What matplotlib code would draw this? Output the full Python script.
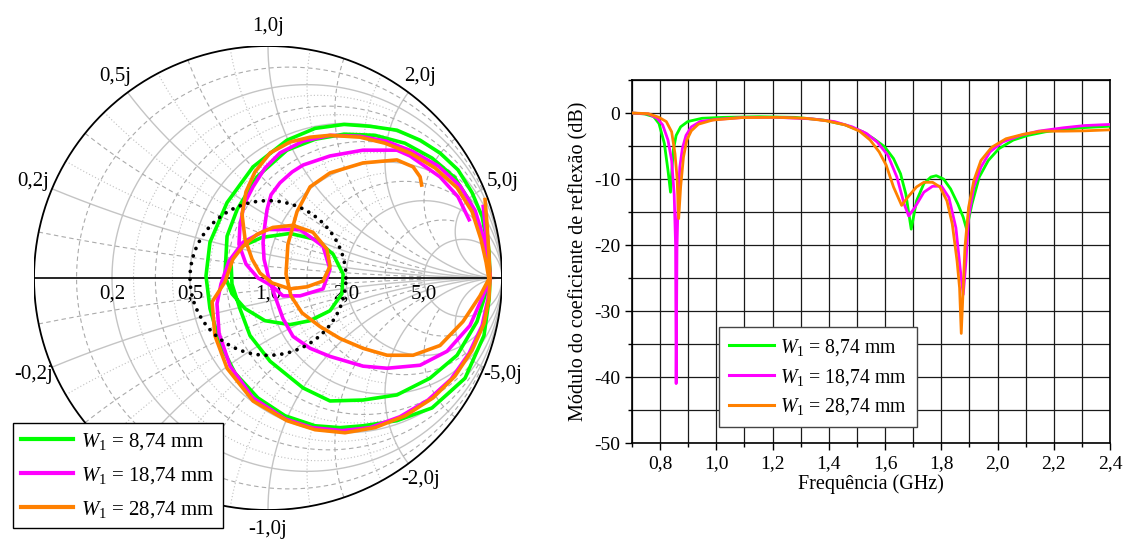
import numpy as np
import matplotlib
matplotlib.use('Agg')
import matplotlib.pyplot as plt
from matplotlib.lines import Line2D

plt.rcParams['font.family'] = ['Liberation Serif', 'DejaVu Serif']
plt.rcParams['mathtext.fontset'] = 'custom'
plt.rcParams['mathtext.rm'] = 'Liberation Serif'
plt.rcParams['mathtext.it'] = 'Liberation Serif:italic'

# ---------------- data ----------------
series_labels = [r'$W_{\mathit{1}}$ = 8,74 mm', r'$W_{\mathit{1}}$ = 18,74 mm', r'$W_{\mathit{1}}$ = 28,74 mm']
series_colors = ['#00FF00', '#FF00FF', '#FF8000']

green_re = [0.932, 0.945, 0.949, 0.945, 0.923, 0.842, 0.701, 0.551, 0.406, 0.308, 0.201, 0.073, -0.043, -0.141,
            -0.205, -0.248, -0.265, -0.248, -0.175, -0.064, 0.081, 0.201, 0.325, 0.436, 0.551, 0.650, 0.735, 0.812,
            0.872, 0.915, 0.936, 0.945, 0.949, 0.936, 0.893, 0.808, 0.692, 0.551, 0.406, 0.265, 0.150, 0.009,
            -0.077, -0.120, -0.154, -0.158, -0.120, -0.026, 0.094, 0.201, 0.278, 0.321, 0.316, 0.265, 0.180,
            0.094, -0.013, -0.098, -0.154, -0.184, -0.175, -0.132, -0.047, 0.081, 0.201, 0.325, 0.457, 0.585,
            0.701, 0.799, 0.863, 0.897]
green_im = [0.231, 0.103, 0.000, -0.090, -0.248, -0.432, -0.560, -0.615, -0.637, -0.645, -0.637, -0.594, -0.517,
            -0.410, -0.282, -0.132, 0.009, 0.154, 0.325, 0.479, 0.594, 0.645, 0.662, 0.654, 0.637, 0.594, 0.539,
            0.466, 0.368, 0.265, 0.154, 0.060, 0.000, -0.047, -0.188, -0.333, -0.432, -0.504, -0.526, -0.530,
            -0.474, -0.359, -0.248, -0.132, -0.026, 0.073, 0.132, 0.175, 0.192, 0.167, 0.103, 0.017, -0.068,
            -0.141, -0.184, -0.201, -0.184, -0.132, -0.068, 0.009, 0.180, 0.295, 0.436, 0.551, 0.598, 0.620,
            0.615, 0.581, 0.517, 0.432, 0.329, 0.226]

magenta_re = [0.919, 0.932, 0.945, 0.949, 0.940, 0.915, 0.859, 0.782, 0.684, 0.564, 0.436, 0.316, 0.188, 0.073,
              -0.064, -0.162, -0.209, -0.218, -0.201, -0.167, -0.107, -0.004, 0.137, 0.235, 0.265, 0.235, 0.137,
              0.064, 0.017, -0.043, -0.094, -0.124, -0.120, -0.103, -0.064, -0.013, 0.051, 0.150, 0.265, 0.393,
              0.504, 0.615, 0.727, 0.821, 0.885, 0.923, 0.940, 0.949, 0.919, 0.863, 0.765, 0.650, 0.509, 0.406,
              0.265, 0.180, 0.107, 0.064, 0.034, 0.004, -0.017, -0.021, -0.013, -0.004, 0.013, 0.051, 0.103,
              0.150, 0.265, 0.406, 0.551, 0.607, 0.650, 0.735, 0.812, 0.863]
magenta_im = [0.316, 0.188, 0.073, 0.000, -0.090, -0.205, -0.325, -0.436, -0.526, -0.598, -0.645, -0.658, -0.645,
              -0.607, -0.517, -0.380, -0.239, -0.111, -0.026, 0.073, 0.154, 0.209, 0.209, 0.137, 0.038, -0.047,
              -0.077, -0.077, -0.034, 0.000, 0.060, 0.145, 0.222, 0.316, 0.393, 0.474, 0.539, 0.590, 0.615, 0.611,
              0.590, 0.547, 0.483, 0.397, 0.291, 0.167, 0.068, 0.000, -0.077, -0.205, -0.316, -0.376, -0.389,
              -0.380, -0.338, -0.303, -0.252, -0.175, -0.090, -0.004, 0.081, 0.154, 0.231, 0.295, 0.359, 0.410,
              0.457, 0.487, 0.526, 0.551, 0.551, 0.526, 0.496, 0.436, 0.350, 0.244]

orange_re = [0.927, 0.936, 0.944, 0.949, 0.944, 0.923, 0.872, 0.799, 0.705, 0.586, 0.457, 0.329, 0.201, 0.081,
             -0.064, -0.175, -0.227, -0.239, -0.184, -0.150, -0.107, -0.047, 0.021, 0.107, 0.192, 0.252, 0.265,
             0.235, 0.167, 0.094, 0.017, -0.034, -0.068, -0.098, -0.111, -0.094, -0.056, 0.009, 0.094, 0.180,
             0.265, 0.393, 0.500, 0.607, 0.714, 0.808, 0.872, 0.910, 0.932, 0.944, 0.906, 0.833, 0.735, 0.620,
             0.509, 0.406, 0.308, 0.222, 0.145, 0.098, 0.077, 0.085, 0.124, 0.180, 0.265, 0.406, 0.551, 0.620,
             0.650, 0.658]
orange_im = [0.346, 0.231, 0.103, 0.000, -0.090, -0.197, -0.312, -0.423, -0.517, -0.594, -0.645, -0.667, -0.654,
             -0.615, -0.530, -0.389, -0.248, -0.103, -0.017, 0.081, 0.137, 0.188, 0.218, 0.227, 0.197, 0.124,
             0.051, -0.013, -0.038, -0.047, -0.021, 0.021, 0.081, 0.167, 0.274, 0.372, 0.457, 0.539, 0.586,
             0.607, 0.615, 0.607, 0.581, 0.539, 0.474, 0.389, 0.286, 0.167, 0.068, -0.004, -0.077, -0.188,
             -0.291, -0.333, -0.333, -0.303, -0.261, -0.209, -0.150, -0.077, 0.017, 0.145, 0.286, 0.393, 0.453,
             0.496, 0.509, 0.479, 0.436, 0.393]

# |S11| (dB) versus frequency (GHz)
green_f = [0.700, 0.745, 0.777, 0.796, 0.815, 0.828, 0.837, 0.841, 0.847, 0.857, 0.873, 0.898, 0.949, 1.025,
           1.152, 1.280, 1.381, 1.458, 1.521, 1.560, 1.598, 1.630, 1.655, 1.674, 1.693, 1.712, 1.738, 1.763,
           1.782, 1.808, 1.833, 1.859, 1.878, 1.890, 1.909, 1.935, 1.967, 2.005, 2.056, 2.107, 2.170, 2.234,
           2.297, 2.400]
green_db = [0.0, -0.15, -0.55, -1.6, -4.6, -8.7, -12.0, -9.2, -5.6, -3.4, -2.1, -1.3, -0.8, -0.66, -0.56, -0.66,
            -1.07, -1.8, -2.85, -3.9, -5.1, -6.9, -9.2, -12.3, -17.6, -13.3, -10.7, -9.7, -9.5, -10.0, -11.5,
            -13.8, -15.8, -17.6, -13.8, -9.7, -7.2, -5.4, -4.1, -3.4, -2.85, -2.5, -2.24, -2.0]

magenta_f = [0.700, 0.758, 0.790, 0.809, 0.828, 0.841, 0.850, 0.855, 0.857, 0.860, 0.864, 0.870, 0.879, 0.892,
             0.911, 0.942, 1.000, 1.089, 1.216, 1.343, 1.420, 1.483, 1.534, 1.572, 1.610, 1.642, 1.668, 1.684,
             1.706, 1.738, 1.769, 1.801, 1.827, 1.852, 1.867, 1.878, 1.888, 1.897, 1.916, 1.941, 1.973, 2.018,
             2.081, 2.145, 2.234, 2.310, 2.400]
magenta_db = [0.0, -0.15, -0.8, -1.8, -4.1, -7.2, -12.3, -20.0, -41.0, -20.4, -13.3, -8.2, -5.4, -3.4, -2.1, -1.3,
              -0.97, -0.7, -0.66, -0.9, -1.3, -2.1, -3.1, -4.4, -6.4, -9.7, -13.8, -15.6, -14.3, -12.0, -11.1,
              -11.1, -12.8, -17.4, -23.5, -27.5, -22.4, -15.8, -11.2, -8.2, -5.9, -4.4, -3.4, -2.75, -2.24, -1.9,
              -1.73]

orange_f = [0.700, 0.758, 0.796, 0.822, 0.841, 0.853, 0.860, 0.866, 0.873, 0.883, 0.895, 0.911, 0.936, 0.987,
            1.089, 1.216, 1.318, 1.394, 1.458, 1.509, 1.547, 1.579, 1.604, 1.630, 1.659, 1.680, 1.712, 1.738,
            1.769, 1.795, 1.820, 1.839, 1.856, 1.865, 1.871, 1.878, 1.884, 1.897, 1.916, 1.941, 1.979, 2.030,
            2.094, 2.157, 2.234, 2.310, 2.400]
orange_db = [0.0, -0.1, -0.66, -1.3, -2.85, -6.2, -9.7, -16.0, -11.2, -6.7, -4.1, -2.7, -1.7, -1.07, -0.7, -0.66,
             -0.8, -1.2, -1.8, -2.75, -4.1, -5.9, -7.9, -11.2, -14.0, -12.8, -11.2, -10.5, -10.5, -11.2, -13.3,
             -16.8, -22.4, -26.5, -33.4, -26.5, -20.4, -14.3, -10.2, -7.2, -5.2, -3.9, -3.2, -2.75, -2.75, -2.7,
             -2.55]

# reactance labels shown (the -0,5j one is hidden by the legend in the reference)
react_labels = [0.2, 0.5, 1.0, 2.0, 5.0, -0.2, -1.0, -2.0, -5.0]
resist_labels = [0.2, 0.5, 1.0, 2.0, 5.0]

W, H = 1126, 540
fig = plt.figure(figsize=(W / 100, H / 100), dpi=100)

# ---------------- Smith chart ----------------
ax = fig.add_axes([34 / W, 1 - 510 / H, 468 / W, 464 / H])
ax.set_xlim(-1, 1)
ax.set_ylim(-1, 1)
ax.axis('off')


def gamma(z):
    return (z - 1) / (z + 1)


def sweep(lim, n=500):
    return np.concatenate([-np.logspace(np.log10(lim), -3, n), [0], np.logspace(-3, np.log10(lim), n)])


# (style, values, max extent of the line along the other coordinate)
grid_styles = [
    (dict(color='#c4c4c4', lw=1.0, ls='-'), [0.2, 0.5, 1.0, 2.0, 5.0], 1000.0),
    (dict(color='#ababab', lw=0.8, ls=(0, (4, 3))), [0.1, 0.35, 0.7, 1.4, 3.0], 5.0),
    (dict(color='#c0c0c0', lw=0.8, ls=(0, (1, 2))), [0.27, 0.42, 0.6, 0.85, 1.2, 1.7], 2.0),
]
for st, vals, lim in grid_styles:
    for v in vals:
        g = gamma(v + 1j * sweep(lim))
        ax.plot(g.real, g.imag, zorder=1, **st)
        rr = np.concatenate([[0], np.logspace(-3, np.log10(lim), 500)])
        for s in (1, -1):
            g = gamma(rr + 1j * s * v)
            ax.plot(g.real, g.imag, zorder=1, **st)

th = np.linspace(0, 2 * np.pi, 721)
ax.plot(np.cos(th), np.sin(th), color='black', lw=1.3, zorder=2)
ax.plot([-1, 1], [0, 0], color='black', lw=1.2, zorder=2)

# VSWR = 2 circle
ax.plot(np.cos(th) / 3, np.sin(th) / 3, color='black', lw=2.7, ls=(0, (0.01, 2.1)),
        dash_capstyle='round', zorder=4)

for re, im, c in [(green_re, green_im, series_colors[0]),
                  (magenta_re, magenta_im, series_colors[1]),
                  (orange_re, orange_im, series_colors[2])]:
    ax.plot(re, im, color=c, lw=2.6, solid_capstyle='butt', solid_joinstyle='round', zorder=3)

for xv in react_labels:
    g = gamma(1j * xv)
    ang = np.angle(g)
    txt = ('%.1f' % xv).replace('.', ',') + 'j'
    ax.text(1.085 * np.cos(ang), 1.085 * np.sin(ang), txt, ha='center', va='center',
            fontsize=15, clip_on=False, zorder=2)
for rv in resist_labels:
    g = gamma(rv)
    ax.text(g.real, -0.07, ('%.1f' % rv).replace('.', ','), ha='center', va='center', fontsize=15, zorder=2)

handles = [Line2D([], [], color=c, lw=3) for c in series_colors]
leg1 = fig.legend(handles, series_labels, loc='upper left', bbox_to_anchor=(13 / W, 1 - 423 / H),
                  borderaxespad=0, frameon=True, fancybox=False, edgecolor='black', fontsize=15,
                  handlelength=2.5, handletextpad=0.35, labelspacing=0.62, borderpad=0.4, framealpha=1)
leg1.get_frame().set_linewidth(1.0)

# ---------------- |S11| plot ----------------
ax2 = fig.add_axes([632 / W, 1 - 443 / H, (1110 - 632) / W, (443 - 80) / H])
for f, d, c in [(green_f, green_db, series_colors[0]),
                (magenta_f, magenta_db, series_colors[1]),
                (orange_f, orange_db, series_colors[2])]:
    ax2.plot(f, d, color=c, lw=2.0, zorder=3)
ax2.set_xlim(0.7, 2.4)
ax2.set_ylim(-50, 5)
ax2.set_xticks(np.arange(0.8, 2.41, 0.2))
ax2.set_xticks(np.arange(0.7, 2.41, 0.1), minor=True)
ax2.set_yticks(np.arange(-50, 1, 10))
ax2.set_yticks(np.arange(-50, 5.1, 5), minor=True)
ax2.set_xticklabels([('%.1f' % v).replace('.', ',') for v in np.arange(0.8, 2.41, 0.2)])
ax2.set_yticklabels(['%d' % v for v in np.arange(-50, 1, 10)])
ax2.grid(True, which='both', color='#1a1a1a', lw=0.9)
ax2.set_axisbelow(True)
ax2.tick_params(which='both', direction='out', labelsize=14, top=False, right=False)
ax2.tick_params(which='major', length=5, width=1)
ax2.tick_params(which='minor', length=3, width=1)
for sp in ax2.spines.values():
    sp.set_linewidth(1.2)
ax2.set_xlabel('Frequência (GHz)', fontsize=14.5, labelpad=2)
ax2.set_ylabel('Módulo do coeficiente de reflexão (dB)', fontsize=14.5, labelpad=4)

handles2 = [Line2D([], [], color=c, lw=2.2) for c in series_colors]
leg2 = fig.legend(handles2, series_labels, loc='upper left', bbox_to_anchor=(719 / W, 1 - 327 / H),
                  borderaxespad=0, frameon=True, fancybox=False, edgecolor='#444444', fontsize=14.2,
                  handlelength=2.3, handletextpad=0.3, labelspacing=0.45, borderpad=0.5, framealpha=1)
leg2.get_frame().set_linewidth(1.0)

fig.savefig('out.png', dpi=100)
